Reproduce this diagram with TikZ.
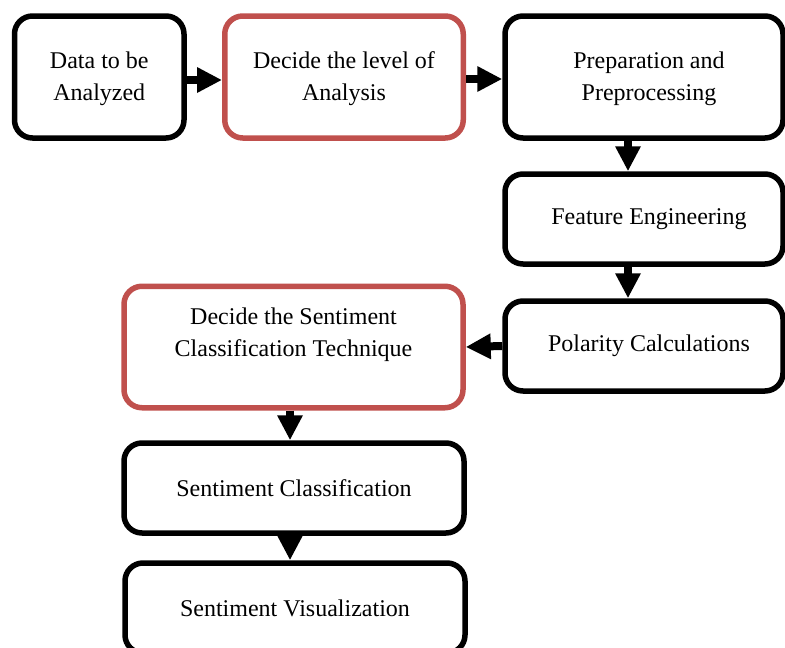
\documentclass[tikz,border=0pt]{standalone}
\usepackage{fontspec}
\setmainfont{Liberation Serif}
\usetikzlibrary{arrows.meta}

\definecolor{boxred}{RGB}{192,80,77}

% right-hand boxes set their text a little to the right of centre
\newcommand{\rpad}{\hspace*{10pt}}

\tikzset{
  flowbox/.style={draw=black, line width=5.5pt, rounded corners=18pt,
    inner sep=0pt, align=center, font=\fontsize{24}{32}\selectfont},
  keybox/.style={flowbox, draw=boxred},
  flowarrow/.style={line width=8pt, -{Triangle[width=24pt,length=25pt]}, black}
}

\begin{document}
\begin{tikzpicture}[x=1pt, y=-1pt]
  \useasboundingbox (0,0) rectangle (785,648);
  \clip (0,0) rectangle (785,648);

  % top row
  \node[flowbox, minimum width=169.5pt, minimum height=122pt, text height=52pt] (data) at (99.25,77)
    {Data to be\\Analyzed};
  \node[keybox, minimum width=238.5pt, minimum height=122pt, text height=52pt] (level) at (344,77)
    {Decide the level of\\Analysis};
  \node[flowbox, minimum width=278pt, minimum height=122pt, text height=52pt] (prep) at (644,77)
    {\rpad Preparation and\\\rpad Preprocessing};

  % right column
  \node[flowbox, minimum width=278pt, minimum height=90pt] (feat) at (644,219)
    {\rpad Feature Engineering};
  \node[flowbox, minimum width=278pt, minimum height=90pt] (pol) at (644,346)
    {\rpad Polarity Calculations};

  % left column
  \node[keybox, minimum width=339pt, minimum height=121.5pt, text depth=29pt] (tech) at (293.5,347)
    {Decide the Sentiment\\Classification Technique};
  \node[flowbox, minimum width=340pt, minimum height=90pt] (cls) at (294,488)
    {Sentiment Classification};
  \node[flowbox, minimum width=340pt, minimum height=90pt] (vis) at (295,608)
    {Sentiment Visualization};

  % connectors
  \draw[flowarrow] ([yshift=-3pt]data.east) -- ([yshift=-3pt]level.west);
  \draw[flowarrow] ([yshift=-2pt]level.east) -- ([yshift=-2pt]prep.west);
  \draw[flowarrow] ([xshift=-16pt]prep.south) -- ([xshift=-16pt]feat.north);
  \draw[flowarrow] ([xshift=-16pt]feat.south) -- ([xshift=-16pt]pol.north);
  \draw[flowarrow] (pol.west) -- (tech.east);
  \draw[flowarrow] ([xshift=-3.5pt]tech.south) -- ([xshift=-4pt]cls.north);
  \draw[flowarrow] ([xshift=-4pt]cls.south) -- ([xshift=-5pt]vis.north);
\end{tikzpicture}
\end{document}
